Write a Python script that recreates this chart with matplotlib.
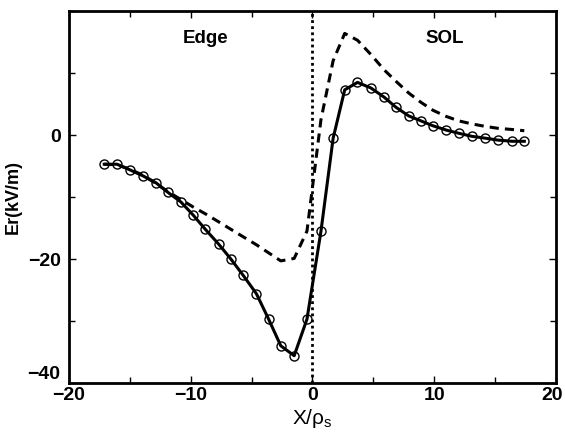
import matplotlib.pyplot as plt
from matplotlib.ticker import MultipleLocator
from matplotlib.transforms import ScaledTranslation

plt.rcParams['font.family'] = ['Liberation Sans', 'DejaVu Sans']

x = [-17.1, -16.05, -15.0, -13.9, -12.85, -11.9, -10.8, -9.8, -8.8, -7.7,
     -6.7, -5.7, -4.6, -3.6, -2.6, -1.5, -0.45, 0.7, 1.7, 2.65,
     3.7, 4.8, 5.9, 6.85, 7.9, 8.9, 9.9, 11.0, 12.0, 13.1,
     14.2, 15.2, 16.4, 17.4]
er_solid = [-4.7, -4.7, -5.6, -6.6, -7.7, -9.2, -10.8, -12.9, -15.2, -17.6,
            -20.0, -22.6, -25.6, -29.7, -34.0, -35.6, -29.7, -15.5, -0.5, 7.3,
            8.5, 7.6, 6.1, 4.5, 3.1, 2.3, 1.5, 0.8, 0.3, -0.2,
            -0.5, -0.8, -1.0, -1.0]
er_dashed = [-4.7, -4.8, -5.5, -6.5, -7.8, -9.1, -10.4, -11.6, -12.7, -14.0,
             -15.2, -16.4, -17.7, -19.0, -20.3, -19.9, -15.5, 2.5, 12.0, 16.4,
             15.3, 13.0, 10.5, 8.7, 6.8, 5.3, 4.0, 3.0, 2.3, 1.8,
             1.4, 1.1, 0.9, 0.7]
xticks = [-20, -10, 0, 10, 20]
yticks = [-40, -20, 0]

fig = plt.figure(figsize=(5.65, 4.38), dpi=100)
ax = fig.add_axes([0.122, 0.1256, 0.862, 0.849])

ax.plot(x, er_dashed, color='black', lw=2.2, ls=(0, (3, 2)))
ax.plot(x, er_solid, color='black', lw=2.2, marker='o', ms=6.5,
        mfc='none', mec='black', mew=1)
ax.axvline(0, color='black', lw=2, ls=(0, (1, 1.2)))

ax.set_xlim(-20, 20)
ax.set_ylim(-40, 20)
ax.set_xticks(xticks)
ax.xaxis.set_minor_locator(MultipleLocator(5))
ax.set_yticks(yticks)
ax.yaxis.set_minor_locator(MultipleLocator(10))
ax.tick_params(which='both', direction='in', top=True, right=True,
               width=1, labelsize=14)
ax.tick_params(which='major', length=5)
ax.tick_params(which='minor', length=4)
ax.tick_params(axis='y', pad=6)
ax.tick_params(axis='x', pad=3)
for lab in ax.get_xticklabels() + ax.get_yticklabels():
    lab.set_fontweight('bold')
ax.get_yticklabels()[0].set_va('bottom')
last = ax.get_xticklabels()[-1]
last.set_transform(last.get_transform() + ScaledTranslation(-3 / 72, 0, fig.dpi_scale_trans))
for s in ax.spines.values():
    s.set_linewidth(2)

ax.set_xlabel('X/ρ$_\\mathregular{s}$', fontsize=15, labelpad=2)
ax.set_ylabel('Er(kV/m)', fontsize=13, fontweight='bold', labelpad=4)

ax.text(-8.8, 15.6, 'Edge', fontsize=13.5, fontweight='bold', ha='center', va='center')
ax.text(10.9, 15.6, 'SOL', fontsize=13.5, fontweight='bold', ha='center', va='center')

fig.savefig('out.png', dpi=100)
